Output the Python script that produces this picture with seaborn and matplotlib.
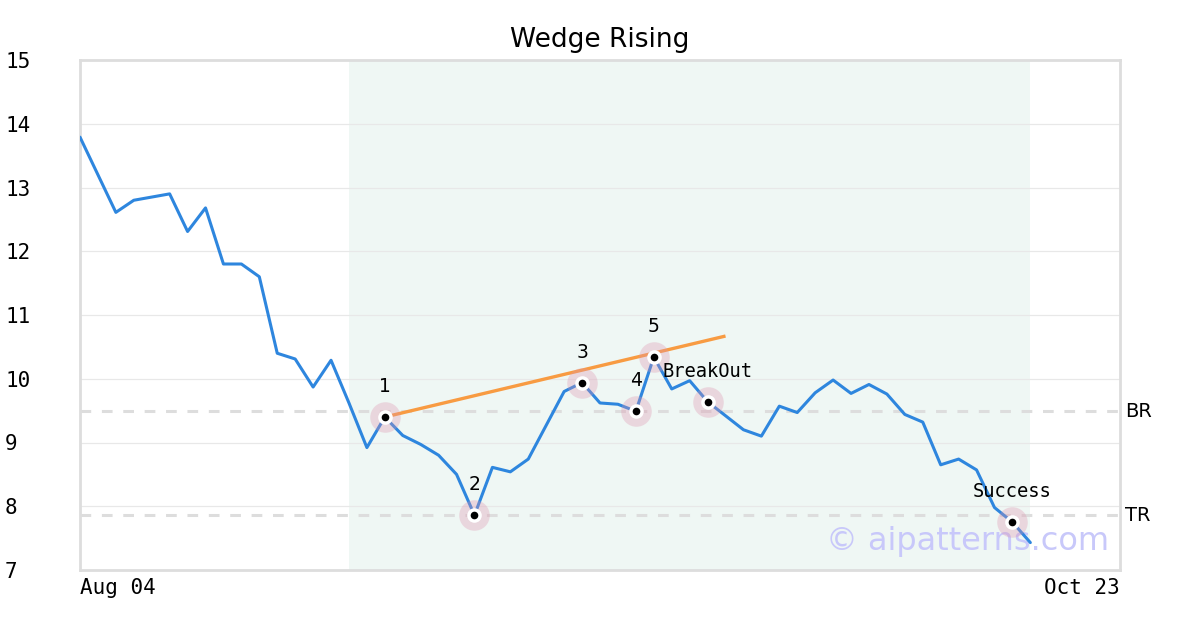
import matplotlib
matplotlib.use("Agg")
import matplotlib.pyplot as plt
import seaborn as sns
import pandas as pd

# ---- data ----
close = [13.79, 13.20, 12.61, 12.80, 12.85, 12.90, 12.31, 12.68, 11.80, 11.80,
         11.60, 10.40, 10.31, 9.87, 10.29, 9.62, 8.92, 9.40, 9.11, 8.97,
         8.80, 8.50, 7.86, 8.61, 8.54, 8.74, 9.27, 9.80, 9.94, 9.62,
         9.60, 9.49, 10.34, 9.84, 9.97, 9.64, 9.42, 9.20, 9.10, 9.57,
         9.47, 9.78, 9.98, 9.77, 9.91, 9.76, 9.44, 9.32, 8.65, 8.74,
         8.57, 7.98, 7.75, 7.43]
day_idx = list(range(len(close)))

pattern_idx = [17, 22, 28, 31, 32]
pattern_labels = ["1", "2", "3", "4", "5"]
event_idx = [35, 52]
event_labels = ["BreakOut", "Success"]

trend_x = [17, 36]
trend_y = [9.40, 10.67]

br_level = 9.49
tr_level = 7.86
span_start, span_end = 15, 53

x_ticks = [0, 58]
x_tick_labels = ["Aug 04", "Oct 23"]
y_ticks = list(range(7, 16))

df = pd.DataFrame({"day": day_idx, "close": close})

# ---- style ----
sns.set_style("white")
plt.rcParams["font.family"] = ["DejaVu Sans"]
plt.rcParams["text.color"] = "black"
plt.rcParams["xtick.color"] = "black"
plt.rcParams["ytick.color"] = "black"

fig = plt.figure(figsize=(12, 6.3), dpi=100)
ax = fig.add_axes([80 / 1200, 60 / 630, 1040 / 1200, 510 / 630])

# pattern window
ax.axvspan(span_start, span_end, color="#eff7f4", lw=0, zorder=0)

# horizontal grid
for v in y_ticks[1:-1]:
    ax.axhline(v, color="#e8e8e8", lw=0.9, zorder=1)

# breakout / target levels
for lvl, name in [(br_level, "BR"), (tr_level, "TR")]:
    ax.axhline(lvl, color="#dddddd", lw=2.2, dashes=(3.5, 3.5), zorder=1)
    ax.text(1.005, lvl, name, transform=ax.get_yaxis_transform(),
            ha="left", va="center", fontsize=14, color="black")

# price line
sns.lineplot(data=df, x="day", y="close", color="#2e86de", lw=2.2, ax=ax, zorder=3)

# wedge upper trend line
ax.plot(trend_x, trend_y, color="#f89b42", lw=2.4, zorder=4, solid_capstyle="butt")

# marked points
def mark(i, label, mono=False):
    y = close[i]
    ax.plot(i, y, "o", ms=22, color="#de93ae", alpha=0.32, mec="none", zorder=5)
    ax.plot(i, y, "o", ms=10.5, color="white", mec="none", zorder=6)
    ax.plot(i, y, "o", ms=5.5, color="black", mec="none", zorder=7)
    ax.annotate(label, (i, y), xytext=(0, 22), textcoords="offset points",
                ha="center", va="center", fontsize=13.5,
                family="DejaVu Sans Mono" if mono else "DejaVu Sans", zorder=8)

for i, lab in zip(pattern_idx, pattern_labels):
    mark(i, lab)
for i, lab in zip(event_idx, event_labels):
    mark(i, lab, mono=True)

# watermark
ax.text(0.99, 0.055, "\u00a9 aipatterns.com", transform=ax.transAxes,
        ha="right", va="center", fontsize=23, color="#c8c8fa", zorder=2)

# axes
ax.set_xlim(0, 58)
ax.set_ylim(7, 15)
ax.set_xlabel("")
ax.set_ylabel("")
ax.set_yticks(y_ticks)
ax.set_yticklabels([str(t) for t in y_ticks], family="DejaVu Sans Mono", fontsize=15)
for lab in ax.get_yticklabels():
    lab.set_ha("left")
ax.set_xticks(x_ticks)
ax.set_xticklabels(x_tick_labels, family="DejaVu Sans Mono", fontsize=15)
xl = ax.get_xticklabels()
xl[0].set_ha("left")
xl[1].set_ha("right")
ax.tick_params(axis="y", length=0, pad=54)
ax.tick_params(axis="x", length=0, pad=6)
for s in ax.spines.values():
    s.set_color("#dddddd")
    s.set_linewidth(2)

fig.text(0.5, 1 - 40 / 630, "Wedge Rising", ha="center", va="center", fontsize=19)

fig.savefig("out.png", dpi=100)
